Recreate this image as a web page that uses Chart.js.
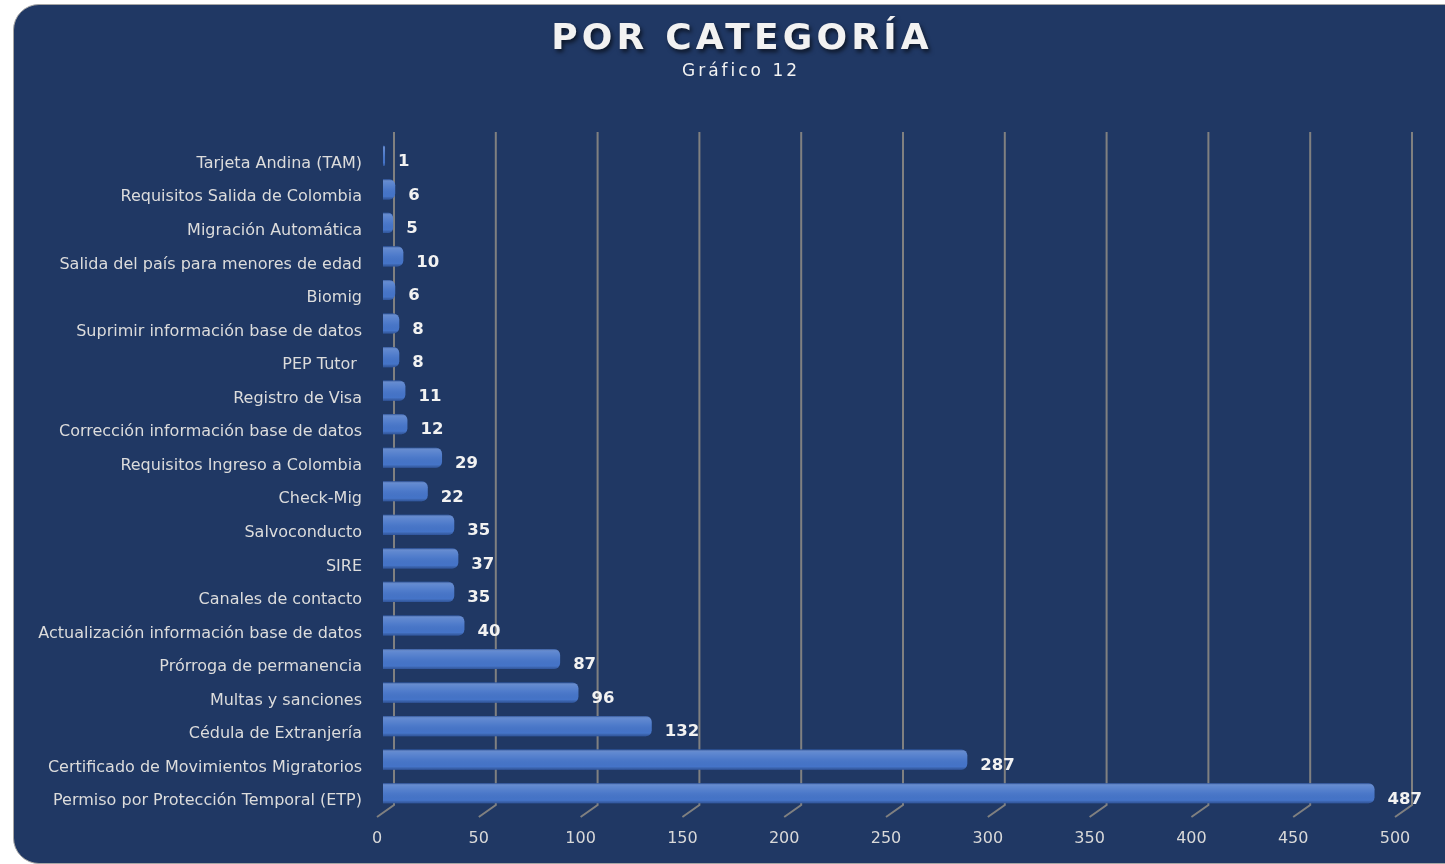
<!DOCTYPE html>
<html>
<head>
<meta charset="utf-8">
<script src="https://cdn.jsdelivr.net/npm/chart.js@4"></script>
<style>
  html, body { margin: 0; padding: 0; background: #ffffff; overflow: hidden; }
  #panel {
    position: absolute; left: 13px; top: 4px; width: 1460px; height: 858px;
    background: #203864; border: 1px solid #a6a6a6; border-radius: 26px;
  }
  #wrap { position: absolute; left: 0; top: 0; width: 1445px; height: 864px; }
</style>
</head>
<body>
<div id="panel"></div>
<div id="wrap"><canvas id="grafico" width="1445" height="864"></canvas></div>
<script>
const titulo = 'POR CATEGORÍA';
const subtitulo = 'Gráfico 12';

const categorias = [
  'Tarjeta Andina (TAM)',
  'Requisitos Salida de Colombia',
  'Migración Automática',
  'Salida del país para menores de edad',
  'Biomig',
  'Suprimir información base de datos',
  'PEP Tutor ',
  'Registro de Visa',
  'Corrección información base de datos',
  'Requisitos Ingreso a Colombia',
  'Check-Mig',
  'Salvoconducto',
  'SIRE',
  'Canales de contacto',
  'Actualización información base de datos',
  'Prórroga de permanencia',
  'Multas y sanciones',
  'Cédula de Extranjería',
  'Certificado de Movimientos Migratorios',
  'Permiso por Protección Temporal (ETP)'
];
const valores = [1, 6, 5, 10, 6, 8, 8, 11, 12, 29, 22, 35, 37, 35, 40, 87, 96, 132, 287, 487];
const ticksX = [0, 50, 100, 150, 200, 250, 300, 350, 400, 450, 500];

const FUENTE = '"DejaVu Sans", Verdana, sans-serif';
const ctx = document.getElementById('grafico').getContext('2d');

// rejilla con profundidad (pared de fondo + marcas en el piso)
const rejilla3d = {
  id: 'rejilla3d',
  beforeDatasetsDraw(chart) {
    const { ctx, chartArea, scales } = chart;
    ctx.save();
    ctx.strokeStyle = '#808080';
    ctx.lineWidth = 2;
    ticksX.forEach(v => {
      const px = scales.x.getPixelForValue(v);
      ctx.beginPath();
      ctx.moveTo(px + 11, chartArea.top - 7);
      ctx.lineTo(px + 11, chartArea.bottom - 5);
      ctx.lineTo(px - 6, chartArea.bottom + 7);
      ctx.stroke();
    });
    ctx.restore();
  }
};

// sombreado de las barras y etiquetas de valor
const barras3d = {
  id: 'barras3d',
  afterDatasetsDraw(chart) {
    const { ctx } = chart;
    const meta = chart.getDatasetMeta(0);
    ctx.save();
    meta.data.forEach((bar, i) => {
      const top = bar.y - bar.height / 2;
      const g = ctx.createLinearGradient(0, top, 0, top + bar.height);
      g.addColorStop(0, 'rgba(20,50,110,0.55)');
      g.addColorStop(0.12, 'rgba(255,255,255,0.16)');
      g.addColorStop(0.45, 'rgba(255,255,255,0.05)');
      g.addColorStop(0.85, 'rgba(0,0,0,0)');
      g.addColorStop(1, 'rgba(10,30,80,0.35)');
      ctx.fillStyle = g;
      ctx.beginPath();
      ctx.roundRect(bar.base, top, Math.max(bar.x - bar.base, 1), bar.height, [0, 6, 6, 0]);
      ctx.fill();

      ctx.fillStyle = '#f2f2f2';
      ctx.font = 'bold 16.5px ' + FUENTE;
      ctx.textAlign = 'left';
      ctx.textBaseline = 'middle';
      ctx.fillText(String(valores[i]), bar.x + 13, bar.y + 6);
    });
    ctx.restore();
  }
};

const encabezado = {
  id: 'encabezado',
  afterDraw(chart) {
    const { ctx } = chart;
    ctx.save();
    ctx.textAlign = 'center';
    ctx.textBaseline = 'middle';
    ctx.shadowColor = 'rgba(0,0,0,0.6)';
    ctx.shadowOffsetX = 2;
    ctx.shadowOffsetY = 3;
    ctx.shadowBlur = 4;
    ctx.fillStyle = '#f2f2f2';
    ctx.font = 'bold 36px ' + FUENTE;
    ctx.letterSpacing = '4.2px';
    ctx.fillText(titulo, 742, 40);
    ctx.shadowColor = 'rgba(0,0,0,0)';
    ctx.font = '17px ' + FUENTE;
    ctx.letterSpacing = '3px';
    ctx.fillText(subtitulo, 741, 72);
    ctx.restore();
  }
};

new Chart(ctx, {
  type: 'bar',
  data: {
    labels: categorias,
    datasets: [{
      data: valores,
      backgroundColor: '#4574c8',
      borderRadius: { topRight: 6, bottomRight: 6 },
      borderSkipped: false,
      categoryPercentage: 1,
      barPercentage: 0.6
    }]
  },
  options: {
    indexAxis: 'y',
    responsive: false,
    animation: false,
    layout: { padding: { top: 139, right: 44, left: 0, bottom: 0 } },
    plugins: {
      legend: { display: false },
      tooltip: { enabled: false }
    },
    scales: {
      x: {
        min: 0,
        max: 500,
        afterBuildTicks: s => { s.ticks = ticksX.map(v => ({ value: v })); },
        afterFit: s => { s.height = 54; },
        grid: { display: false, drawTicks: false },
        border: { display: false },
        ticks: {
          color: '#d9d9d9',
          font: { family: FUENTE, size: 16 },
          padding: 19,
          labelOffset: -6,
          maxRotation: 0
        }
      },
      y: {
        afterFit: s => { s.width = 383; },
        grid: { display: false, drawTicks: false },
        border: { display: false },
        ticks: {
          color: '#dcdcdc',
          font: { family: FUENTE, size: 16 },
          padding: 21,
          labelOffset: 8,
          autoSkip: false
        }
      }
    }
  },
  plugins: [rejilla3d, barras3d, encabezado]
});
</script>
</body>
</html>
